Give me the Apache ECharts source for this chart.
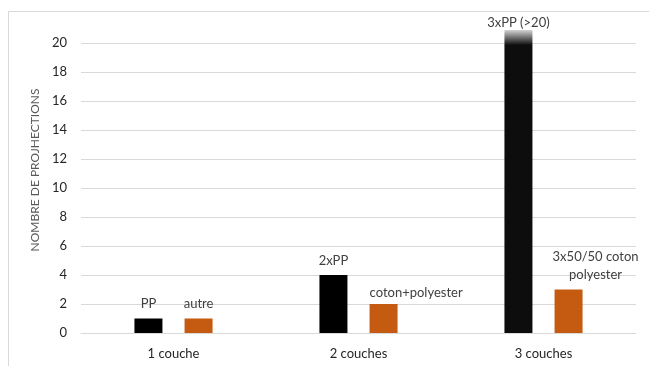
<!DOCTYPE html>
<html>
<head>
<meta charset="utf-8">
<script src="https://cdn.jsdelivr.net/npm/echarts@6/dist/echarts.min.js"></script>
<style>
  html, body { margin: 0; padding: 0; background: #fff; }
  #chart { width: 649px; height: 366px; }
</style>
</head>
<body>
<div id="chart"></div>
<script>
// Categories: number of mask layers
const categories = ['1 couche', '2 couches', '3 couches'];
// Polypropylene masks (the 3-layer value is off the scale, >20)
const ppValues = [1, 4, 20.9];
const ppLabels = ['PP', '2xPP', '3xPP (>20)'];
// Other fabrics
const otherValues = [1, 2, 3];
const otherLabels = ['autre', 'coton+polyester', '3x50/50 coton\npolyester'];
// Y axis ticks
const yMin = 0, yMax = 20, yStep = 2;

const FONT = 'Lato, "Open Sans", sans-serif';
const labelColor = '#404040';

const chart = echarts.init(document.getElementById('chart'), null, { renderer: 'canvas' });

const ppData = ppValues.map((v, i) => {
  const item = {
    value: v,
    label: { formatter: ppLabels[i] }
  };
  if (i === 2) {
    // broken-scale bar: fade out above the top of the axis
    item.itemStyle = {
      color: new echarts.graphic.LinearGradient(0, 0, 0, 1, [
        { offset: 0, color: '#d4d4d4' },
        { offset: 0.05, color: '#0d0d0d' },
        { offset: 1, color: '#0d0d0d' }
      ])
    };
    item.label.distance = 1;
  }
  return item;
});

const otherData = otherValues.map((v, i) => {
  const item = { value: v, label: { formatter: otherLabels[i] } };
  if (i === 1) {
    item.label.position = [0, -5];
    item.label.align = 'left';
    item.label.verticalAlign = 'bottom';
  }
  if (i === 2) {
    item.label.offset = [27, 0];
    item.label.lineHeight = 18;
    item.label.distance = 6;
  }
  return item;
});

chart.setOption({
  animation: false,
  backgroundColor: '#ffffff',
  textStyle: { fontFamily: FONT },
  grid: { left: 81, right: 13, top: 43, bottom: 33, containLabel: false },
  graphic: [{
    type: 'rect',
    shape: { x: 8.5, y: 11.5, width: 700, height: 400 },
    style: { fill: 'none', stroke: '#d9d9d9', lineWidth: 1 },
    silent: true,
    z: -10
  }],
  xAxis: {
    type: 'category',
    data: categories,
    axisTick: { show: false },
    axisLine: { lineStyle: { color: '#d9d9d9', width: 1 } },
    axisLabel: { color: '#262626', fontSize: 13, margin: 14, fontFamily: FONT }
  },
  yAxis: {
    type: 'value',
    min: yMin,
    max: yMax,
    interval: yStep,
    name: 'NOMBRE DE PROJHECTIONS',
    nameLocation: 'middle',
    nameGap: 40,
    nameRotate: 90,
    nameTextStyle: { color: '#595959', fontSize: 12, fontFamily: FONT, padding: [0, 0, 0, 36] },
    axisLine: { show: false },
    axisTick: { show: false },
    splitLine: { lineStyle: { color: '#d9d9d9', width: 1 } },
    axisLabel: { color: '#262626', fontSize: 13, margin: 14, fontFamily: FONT }
  },
  series: [
    {
      name: 'PP',
      type: 'bar',
      data: ppData,
      barWidth: 28,
      barGap: '79%',
      clip: false,
      itemStyle: { color: '#000000' },
      label: { show: true, position: 'top', distance: 8, color: labelColor, fontSize: 13, fontFamily: FONT }
    },
    {
      name: 'autre',
      type: 'bar',
      data: otherData,
      barWidth: 28,
      clip: false,
      itemStyle: { color: '#c55a11' },
      label: { show: true, position: 'top', distance: 8, color: labelColor, fontSize: 13, fontFamily: FONT }
    }
  ]
});
</script>
</body>
</html>
